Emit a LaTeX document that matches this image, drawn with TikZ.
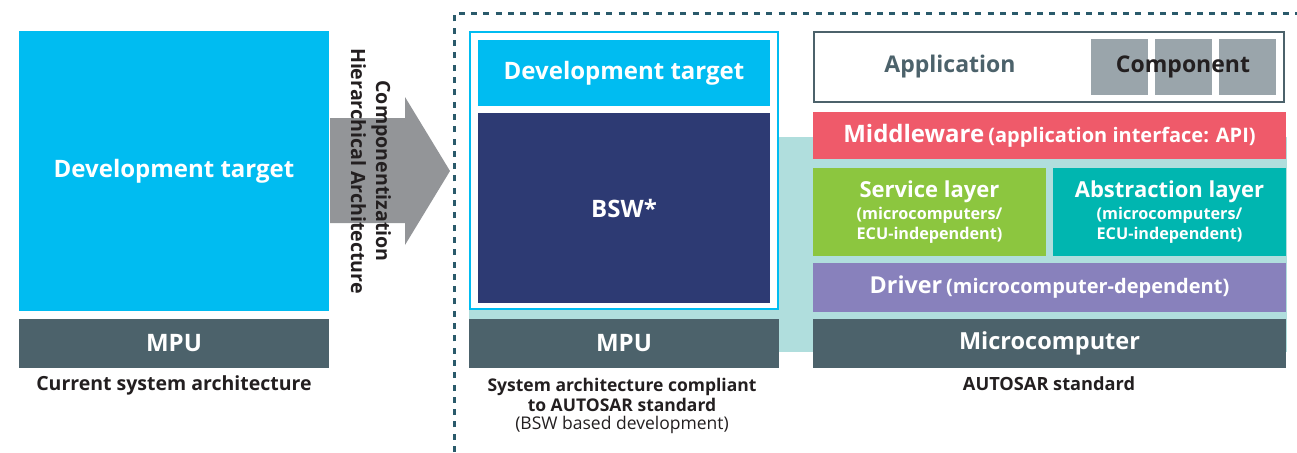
\documentclass[tikz,border=0pt]{standalone}
\usepackage{fontspec}
\setmainfont{Open Sans}
\definecolor{cyanT}{HTML}{00BCF1}
\definecolor{navyB}{HTML}{2D3A73}
\definecolor{slateG}{HTML}{4C626B}
\definecolor{paleT}{HTML}{B0DEDD}
\definecolor{redM}{HTML}{EF5A6A}
\definecolor{greenS}{HTML}{8CC63F}
\definecolor{tealA}{HTML}{00B6B0}
\definecolor{purpleD}{HTML}{8881BC}
\definecolor{greyA}{HTML}{939598}
\definecolor{greyC}{HTML}{9AA5AB}
\definecolor{frameD}{HTML}{2A5A6B}
\definecolor{inkT}{HTML}{231F20}
\tikzset{
  blk/.style={inner sep=0pt, outer sep=0pt, text=white, align=center,
    font=\bfseries\fontsize{24}{28}\selectfont},
  captxt/.style={inner sep=0pt, align=center, text=inkT,
    font=\bfseries\fontsize{17.5}{20.5}\selectfont},
}
\newcommand\subtxt[1]{{\fontsize{20}{22}\selectfont #1}}
\newcommand\layertxt[1]{{\fontsize{16.2}{19}\selectfont #1}}
\begin{document}
\begin{tikzpicture}[x=1pt,y=-1pt]
\useasboundingbox (0,0) rectangle (1297,452);

% dashed frame around the AUTOSAR side
\draw[frameD, line width=3pt, dash pattern=on 6pt off 6.3pt] (454,452) -- (454,14) -- (1297,14);

% ---- current architecture ----
\node[blk, fill=cyanT, minimum width=310pt, minimum height=280pt] (devL) at (174,171) {Development target};
\node[blk, fill=slateG, minimum width=310pt, minimum height=49pt] (mpuL) at (174,343.5) {MPU};
\node[captxt, font=\bfseries\fontsize{19.5}{22}\selectfont] (capL) at (174,385) {Current system architecture};

% ---- transition arrow ----
\fill[greyA] (330,118) -- (405,118) -- (405,97) -- (450,171) -- (405,245) -- (405,223) -- (330,223) -- cycle;
\node[inner sep=0pt, rotate=-90, align=center, text=inkT,
  font=\bfseries\fontsize{19.6}{25}\selectfont] (arrT) at (371,171) {Componentization\\Hierarchical Architecture};

% ---- BSW-based architecture ----
\fill[paleT] (469,137) rectangle (1287,352);
\node[inner sep=0pt, outer sep=0pt, fill=white, draw=cyanT, line width=2pt,
  minimum width=308pt, minimum height=277pt] (bswBox) at (624,170.5) {};
\node[blk, fill=cyanT, minimum width=292pt, minimum height=66pt] (devR) at (624,73) {Development target};
\node[blk, fill=navyB, minimum width=292pt, minimum height=190pt] (bsw) at (624,208) {BSW*};
\node[blk, fill=slateG, minimum width=310pt, minimum height=49pt] (mpuR) at (624,343.5) {MPU};
\node[captxt] (capM) at (622,395) {System architecture compliant\\to AUTOSAR standard};
\node[captxt, font=\fontsize{17.5}{20.5}\selectfont] (capM2) at (622,425) {(BSW based development)};

% ---- AUTOSAR layers ----
\node[inner sep=0pt, outer sep=0pt, fill=white, draw=slateG, line width=2pt,
  minimum width=470pt, minimum height=70pt] (app) at (1049,67) {};
\node[inner sep=0pt, outer sep=0pt, fill=greyC, minimum width=57pt, minimum height=56pt] (c1) at (1119.5,67) {};
\node[inner sep=0pt, outer sep=0pt, fill=greyC, minimum width=57pt, minimum height=56pt] (c2) at (1183.5,67) {};
\node[inner sep=0pt, outer sep=0pt, fill=greyC, minimum width=57pt, minimum height=56pt] (c3) at (1247.5,67) {};
\node[blk, text=slateG, font=\bfseries\fontsize{23}{26}\selectfont] (appT) at (950,67) {Application};
\node[blk, text=inkT, font=\bfseries\fontsize{23}{26}\selectfont] (compT) at (1183,67) {Component};

\node[blk, fill=redM, minimum width=473pt, minimum height=47pt] (mid) at (1049.5,135.5)
  {Middleware\,\subtxt{(application interface: API)}};
\node[blk, fill=greenS, minimum width=233pt, minimum height=88pt, font=\bfseries\fontsize{22}{25}\selectfont] (svc) at (929.5,212)
  {Service layer\\[-3pt]\layertxt{(microcomputers/}\\[-5pt]\layertxt{ECU-independent)}};
\node[blk, fill=tealA, minimum width=233pt, minimum height=88pt, font=\bfseries\fontsize{22}{25}\selectfont] (abs) at (1169.5,212)
  {Abstraction layer\\[-3pt]\layertxt{(microcomputers/}\\[-5pt]\layertxt{ECU-independent)}};
\node[blk, fill=purpleD, minimum width=473pt, minimum height=49pt, font=\bfseries\fontsize{23.3}{26}\selectfont] (drv) at (1049.5,287.5)
  {Driver\,\subtxt{(microcomputer-dependent)}};
\node[blk, fill=slateG, minimum width=473pt, minimum height=49pt, font=\bfseries\fontsize{23.5}{26}\selectfont] (mcu) at (1049.5,343.5) {Microcomputer};
\node[captxt, font=\bfseries\fontsize{18.2}{20}\selectfont] (capR) at (1049,384) {AUTOSAR standard};
\end{tikzpicture}
\end{document}
